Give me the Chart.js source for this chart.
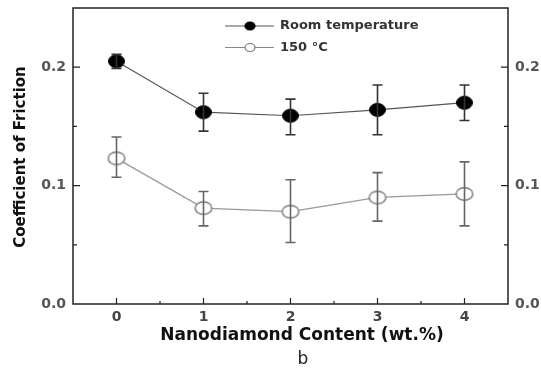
<!DOCTYPE html>
<html><head><meta charset="utf-8">
<script src="https://cdn.jsdelivr.net/npm/chart.js@4/dist/chart.umd.min.js"></script>
<style>html,body{margin:0;padding:0;background:#fff}#wrap{width:541px;height:372px}</style>
</head><body><div id="wrap"><canvas id="c" width="541" height="372"></canvas></div>
<script>
const contents = [0, 1, 2, 3, 4];
const roomTemp = [0.205, 0.162, 0.159, 0.164, 0.170];
const roomLow  = [0.199, 0.146, 0.143, 0.143, 0.155];
const roomHigh = [0.211, 0.178, 0.173, 0.185, 0.185];
const hot150   = [0.123, 0.081, 0.078, 0.090, 0.093];
const hotLow   = [0.107, 0.066, 0.052, 0.070, 0.066];
const hotHigh  = [0.141, 0.095, 0.105, 0.111, 0.120];
const yTickLabels = ['0.0', '0.1', '0.2'];
const xTickLabels = ['0', '1', '2', '3', '4'];
const seriesNames = ['Room temperature', '150 °C'];
const xTitle = 'Nanodiamond Content (wt.%)';
const yTitle = 'Coefficient of Friction';
const panelLabel = 'b';

const FONT = "'DejaVu Sans', sans-serif";

function ellipseMarker(w, h, fill, stroke, lw) {
  const c = document.createElement('canvas');
  c.width = w + 2; c.height = h + 2;
  const g = c.getContext('2d');
  g.beginPath();
  g.ellipse(c.width / 2, c.height / 2, w / 2 - lw / 2, h / 2 - lw / 2, 0, 0, Math.PI * 2);
  g.fillStyle = fill; g.fill();
  g.strokeStyle = stroke; g.lineWidth = lw; g.stroke();
  return c;
}
const filledMark = ellipseMarker(17, 14, '#000', '#000', 1);
const openMark = ellipseMarker(18, 14, '#fff', '#777', 1.4);

const errorBars = {
  id: 'errorBars',
  afterDatasetsDraw(chart) {
    const ctx = chart.ctx, xs = chart.scales.x, ys = chart.scales.y;
    const sets = [[roomLow, roomHigh, '#333'], [hotLow, hotHigh, '#666']];
    ctx.save();
    sets.forEach(([lo, hi, col]) => {
      contents.forEach((c, i) => {
        const px = xs.getPixelForValue(c);
        const y1 = ys.getPixelForValue(lo[i]), y2 = ys.getPixelForValue(hi[i]);
        ctx.strokeStyle = col; ctx.lineWidth = 1.6;
        ctx.beginPath();
        ctx.moveTo(px, y1); ctx.lineTo(px, y2);
        ctx.moveTo(px - 5, y1); ctx.lineTo(px + 5, y1);
        ctx.moveTo(px - 5, y2); ctx.lineTo(px + 5, y2);
        ctx.stroke();
      });
    });
    ctx.restore();
  },
  beforeDatasetsDraw(chart) {
    const ctx = chart.ctx, a = chart.chartArea, xs = chart.scales.x, ys = chart.scales.y;
    ctx.save();
    ctx.strokeStyle = '#222'; ctx.lineWidth = 1.5;
    ctx.strokeRect(a.left, a.top, a.right - a.left, a.bottom - a.top);
    ctx.lineWidth = 1.2;
    ys.ticks.forEach(t => {
      const py = ys.getPixelForValue(t.value);
      if (py <= a.top + 1 || py >= a.bottom - 1) return;
      const major = Math.abs(t.value * 10 - Math.round(t.value * 10)) < 1e-6;
      const len = major ? 7 : 4;
      ctx.beginPath();
      ctx.moveTo(a.left, py); ctx.lineTo(a.left + len, py);
      ctx.moveTo(a.right, py); ctx.lineTo(a.right - len, py);
      ctx.stroke();
    });
    xs.ticks.forEach(t => {
      const px = xs.getPixelForValue(t.value);
      if (px <= a.left + 1 || px >= a.right - 1) return;
      const major = Math.abs(t.value - Math.round(t.value)) < 1e-6;
      const len = major ? 6 : 3;
      ctx.beginPath();
      ctx.moveTo(px, a.bottom); ctx.lineTo(px, a.bottom - len);
      ctx.stroke();
    });
    ctx.restore();
  }
};

const textLayer = {
  id: 'textLayer',
  afterDraw(chart) {
    const ctx = chart.ctx, a = chart.chartArea;
    ctx.save();
    const rows = [[26, '#000', '#000', '#555'], [47.5, '#fff', '#777', '#888']];
    rows.forEach(([y, fill, stroke, line], i) => {
      ctx.strokeStyle = line; ctx.lineWidth = 1.2;
      ctx.beginPath(); ctx.moveTo(225, y); ctx.lineTo(274, y); ctx.stroke();
      ctx.beginPath(); ctx.ellipse(250, y, 5, 4, 0, 0, Math.PI * 2);
      ctx.fillStyle = fill; ctx.fill();
      ctx.strokeStyle = stroke; ctx.lineWidth = 1.2; ctx.stroke();
      ctx.fillStyle = '#333'; ctx.font = 'bold 13px ' + FONT;
      ctx.textBaseline = 'middle'; ctx.textAlign = 'left';
      ctx.fillText(seriesNames[i], 280, y);
    });
    ctx.fillStyle = '#111';
    ctx.font = 'bold 17px ' + FONT;
    ctx.textAlign = 'center'; ctx.textBaseline = 'middle';
    ctx.fillText(xTitle, 302, 336);
    ctx.save();
    ctx.translate(21, (a.top + a.bottom) / 2 + 1);
    ctx.rotate(-Math.PI / 2);
    ctx.font = 'bold 15px ' + FONT;
    ctx.fillText(yTitle, 0, 0);
    ctx.restore();
    ctx.fillStyle = '#222'; ctx.font = '17px ' + FONT;
    ctx.fillText(panelLabel, 303, 360);
    ctx.restore();
  }
};

const isMajorY = v => Math.abs(v * 10 - Math.round(v * 10)) < 1e-6;
const tickFont = { family: FONT, size: 14, weight: 'bold' };
const noPad = s => { s.paddingTop = 0; s.paddingBottom = 0; s.paddingLeft = 0; s.paddingRight = 0; };

new Chart(document.getElementById('c'), {
  type: 'line',
  data: {
    datasets: [
      {
        label: seriesNames[0],
        data: contents.map((c, i) => ({ x: c, y: roomTemp[i] })),
        borderColor: '#555', borderWidth: 1.2,
        pointStyle: filledMark
      },
      {
        label: seriesNames[1],
        data: contents.map((c, i) => ({ x: c, y: hot150[i] })),
        borderColor: '#999', borderWidth: 1.2,
        pointStyle: openMark
      }
    ]
  },
  options: {
    responsive: false, animation: false, devicePixelRatio: 1,
    layout: { padding: { top: 8, left: 0, right: 0, bottom: 0 } },
    plugins: { legend: { display: false }, tooltip: { enabled: false } },
    scales: {
      x: {
        type: 'linear', min: -0.5, max: 4.5,
        afterFit(s) { s.height = 68; noPad(s); },
        afterBuildTicks(s) { s.ticks = [-0.5, 0, 0.5, 1, 1.5, 2, 2.5, 3, 3.5, 4, 4.5].map(v => ({ value: v })); },
        grid: { display: false, drawTicks: false },
        border: { display: false },
        ticks: {
          padding: 5, color: '#444', autoSkip: false, maxRotation: 0, font: tickFont,
          callback: v => (Math.abs(v - Math.round(v)) < 1e-6 && v >= 0 && v <= 4) ? xTickLabels[Math.round(v)] : ''
        }
      },
      y: {
        position: 'left', min: 0, max: 0.25,
        afterFit(s) { s.width = 73; noPad(s); },
        afterBuildTicks(s) { s.ticks = [0, 0.05, 0.1, 0.15, 0.2, 0.25].map(v => ({ value: v })); },
        grid: { display: false, drawTicks: false },
        border: { display: false },
        ticks: {
          padding: 7, color: '#555', autoSkip: false, font: tickFont,
          callback: v => (isMajorY(v) && v < 0.25) ? yTickLabels[Math.round(v * 10)] : ''
        }
      },
      y2: {
        position: 'right', min: 0, max: 0.25,
        afterFit(s) { s.width = 33; noPad(s); },
        afterBuildTicks(s) { s.ticks = [0, 0.05, 0.1, 0.15, 0.2, 0.25].map(v => ({ value: v })); },
        grid: { display: false, drawTicks: false },
        border: { display: false },
        ticks: {
          padding: 7, color: '#555', autoSkip: false, font: tickFont,
          callback: v => (isMajorY(v) && v < 0.25) ? yTickLabels[Math.round(v * 10)] : ''
        }
      }
    }
  },
  plugins: [errorBars, textLayer]
});
</script>
</body></html>
